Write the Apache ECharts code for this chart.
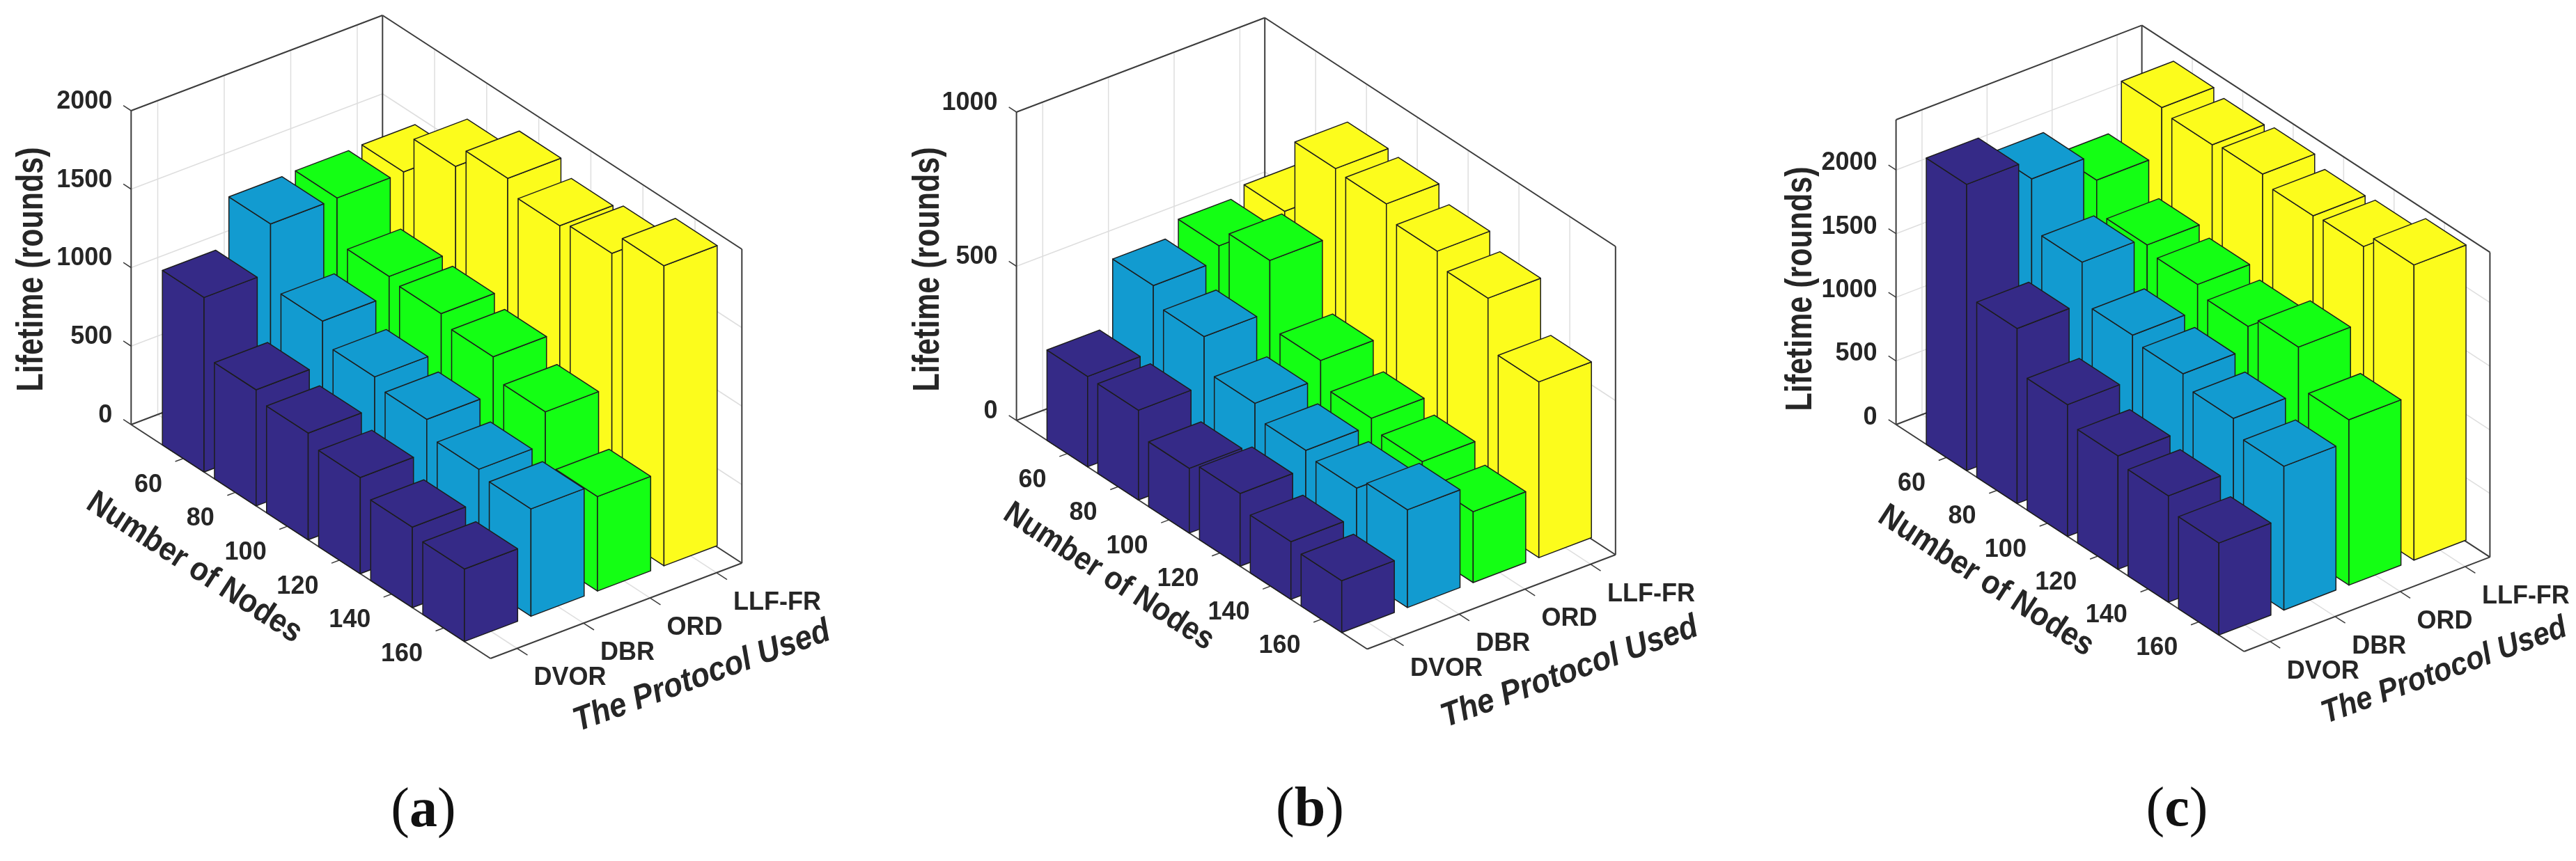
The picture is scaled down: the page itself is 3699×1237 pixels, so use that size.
<!DOCTYPE html>
<html><head><meta charset="utf-8">
<style>html,body{margin:0;padding:0;background:#fff}#c{width:3699px;height:1237px}</style>
<script src="https://cdn.jsdelivr.net/npm/echarts@6/dist/echarts.min.js"></script>
</head><body><div id="c"></div>
<script>
const nodeLabels = ['60','80','100','120','140','160'];
const protocolLabels = ['DVOR','DBR','ORD','LLF-FR'];
const protocolColors = ['#352a87','#129bd0','#14ff14','#fcfc1c'];

const a_DVOR = [1112,740,680,613,513,462];
const a_DBR  = [1420,1017,878,823,721,684];
const a_ORD  = [1425,1141,1120,1061,926,602];
const a_LLF  = [1430,1681,1821,1735,1775,1912];

const b_DVOR = [293,291,210,236,187,168];
const b_DBR  = [507,449,340,295,280,317];
const b_ORD  = [555,615,398,318,285,230];
const b_LLF  = [586,832,825,779,734,570];

const c_DVOR = [2249,1375,1035,891,835,723];
const c_DBR  = [2096,1700,1385,1340,1248,1130];
const c_ORD  = [1890,1639,1587,1516,1612,1299];
const c_LLF  = [2264,2230,2258,2189,2206,2319];

const ticksAC = [0,500,1000,1500,2000];
const ticksB = [0,500,1000];

const AT = 6.9, BT = 3.78;   // box extent in node / protocol units
const panels = [
 {key:'a', L:[188.3,610], top:159, nodeVec:[516,336], protoVec:[361,-137], yMax:2000, ticks:ticksAC,
  values:[a_DVOR,a_DBR,a_ORD,a_LLF], title:[46,387], nodeName:[279,816], nodeSize:43, protoName:[1008,972], protoSize:44, cap:[608,1166], capText:'a', labelLine:26},
 {key:'b', L:[1459.6,604], top:161, nodeVec:[503.6,328.5], protoVec:[356.6,-135.5], yMax:1000, ticks:ticksB,
  values:[b_DVOR,b_DBR,b_ORD,b_LLF], title:[1333,387], nodeName:[1592,829], nodeSize:42, protoName:[2254,966], protoSize:44, cap:[1881,1165], capText:'b', labelLine:26},
 {key:'c', L:[2722.6,610], top:172, nodeVec:[499.8,326], protoVec:[353,-135.6], yMax:2395, ticks:ticksAC,
  values:[c_DVOR,c_DBR,c_ORD,c_LLF], title:[2586.5,415], nodeName:[2851.6,835], nodeSize:43, protoName:[3510,964], protoSize:42, cap:[3126,1165], capText:'c', labelLine:20}
];

const TEXT = '#262626', FONT = '"Liberation Sans",Arial,sans-serif';
const grids=[], xAxes=[], yAxes=[], series=[], graphics=[];

panels.forEach((p,idx)=>{
  const u=[p.nodeVec[0]/AT,p.nodeVec[1]/AT], v=[p.protoVec[0]/BT,p.protoVec[1]/BT];
  const W=p.nodeVec[0]+p.protoVec[0];
  grids.push({left:p.L[0],top:p.top,width:W,height:p.L[1]-p.top,containLabel:false});
  xAxes.push({gridIndex:idx,type:'value',min:0,max:7,show:false});
  yAxes.push({gridIndex:idx,type:'value',min:0,max:p.yMax,interval:500,
    axisLine:{show:false},axisTick:{show:false},splitLine:{show:false},
    axisLabel:{show:true,customValues:p.ticks,margin:27,color:TEXT,fontFamily:FONT,fontWeight:'bold',fontSize:36,
      verticalAlign:'bottom',lineHeight:p.labelLine,formatter:x=>String(x)}});

  const proj=(api,a,b,val)=>{const o=api.coord([0,val]);return [o[0]+a*u[0]+b*v[0],o[1]+a*u[1]+b*v[1]];};
  const line=(s,e,color,w)=>({type:'line',shape:{x1:s[0],y1:s[1],x2:e[0],y2:e[1]},style:{stroke:color,lineWidth:w},silent:true});

  // frame, gridlines, ticks, slanted tick labels
  series.push({type:'custom',coordinateSystem:'cartesian2d',xAxisIndex:idx,yAxisIndex:idx,clip:false,silent:true,
    data:[[0,0]],z:1,
    renderItem:(params,api)=>{
      const P=(a,b,z)=>proj(api,a,b,z), ch=[], G='#dedede', K='#3c3c3c';
      nodeLabels.forEach((_,i)=>{
        const a=i+1;
        ch.push(line(P(a,0,0),P(a,BT,0),G,1.5));
        ch.push(line(P(a,BT,0),P(a,BT,p.yMax),G,1.5));
      });
      protocolLabels.forEach((_,j)=>{
        const b=j+.4;
        ch.push(line(P(0,b,0),P(AT,b,0),G,1.5));
        ch.push(line(P(0,b,0),P(0,b,p.yMax),G,1.5));
      });
      p.ticks.forEach(t=>{
        ch.push(line(P(0,0,t),P(0,BT,t),G,1.5));
        ch.push(line(P(0,BT,t),P(AT,BT,t),G,1.5));
        ch.push(line(P(0,0,t),P(-.15,0,t),K,1.5));
      });
      // box
      [[[0,0,1],[0,BT,1]],[[0,BT,1],[AT,BT,1]],[[0,0,0],[0,0,1]],[[0,BT,0],[0,BT,1]],[[AT,BT,0],[AT,BT,1]],
       [[0,0,0],[AT,0,0]],[[AT,0,0],[AT,BT,0]],[[AT,BT,0],[0,BT,0]],[[0,BT,0],[0,0,0]]].forEach(e=>{
        ch.push(line(P(e[0][0],e[0][1],e[0][2]*p.yMax),P(e[1][0],e[1][1],e[1][2]*p.yMax),K,2));
      });
      nodeLabels.forEach((t,i)=>{
        const a=i+1, s=P(a,0,0);
        ch.push(line(s,P(a,-.12,0),K,1.5));
        ch.push({type:'text',x:s[0]-30,y:s[1]+38,silent:true,style:{text:t,fill:TEXT,font:'bold 36px '+FONT,
          align:'right',verticalAlign:'middle',textAlign:'right',textVerticalAlign:'middle'}});
      });
      protocolLabels.forEach((t,j)=>{
        const b=j+.4, s=P(AT,b,0);
        ch.push(line(s,P(AT+.2,b,0),K,1.5));
        ch.push({type:'text',x:s[0]+24,y:s[1]+43,silent:true,style:{text:t,fill:TEXT,font:'bold 36px '+FONT,
          align:'left',verticalAlign:'middle',textAlign:'left',textVerticalAlign:'middle'}});
      });
      return {type:'group',children:ch};
    }});

  // bars: back protocol first, then nearer ones; nodes ascending
  for(let j=protocolLabels.length-1;j>=0;j--){
    series.push({type:'custom',name:p.key+'-'+protocolLabels[j],coordinateSystem:'cartesian2d',xAxisIndex:idx,yAxisIndex:idx,clip:false,
      z:2+(protocolLabels.length-j),
      data:p.values[j].map((val,i)=>[i,val]),
      renderItem:(params,api)=>{
        const i=api.value(0), val=api.value(1), col=protocolColors[j];
        const a0=i+.6,a1=i+1.4,b0=j,b1=j+.8;
        const T=(a,b)=>proj(api,a,b,val), B=(a,b)=>proj(api,a,b,0);
        const st={fill:col,stroke:'#1d1d1d',lineWidth:1.5,lineJoin:'round'};
        const poly=pts=>({type:'polygon',shape:{points:pts},style:st});
        return {type:'group',children:[
          poly([T(a0,b0),T(a1,b0),B(a1,b0),B(a0,b0)]),
          poly([T(a1,b0),T(a1,b1),B(a1,b1),B(a1,b0)]),
          poly([T(a0,b0),T(a1,b0),T(a1,b1),T(a0,b1)])
        ]};
      }});
  }

  graphics.push({type:'text',x:p.title[0],y:p.title[1],rotation:Math.PI/2,scaleY:1.25,silent:true,
    style:{text:'Lifetime (rounds)',fill:TEXT,font:'bold 43px '+FONT,align:'center',verticalAlign:'middle'}});
  graphics.push({type:'text',x:p.nodeName[0],y:p.nodeName[1],rotation:-33*Math.PI/180,scaleY:1.1,silent:true,
    style:{text:'Number of Nodes',fill:TEXT,font:'bold '+p.nodeSize+'px '+FONT,align:'center',verticalAlign:'middle'}});
  graphics.push({type:'text',x:p.protoName[0],y:p.protoName[1],rotation:20*Math.PI/180,scaleY:1.1,silent:true,
    style:{text:'The Protocol Used',fill:TEXT,font:'italic bold '+p.protoSize+'px '+FONT,align:'center',verticalAlign:'middle'}});
  graphics.push({type:'text',x:p.cap[0],y:p.cap[1],silent:true,
    style:{text:'{p|(}{b|'+p.capText+'}{p|)}',align:'center',verticalAlign:'middle',
      rich:{p:{font:'80px "Liberation Serif",serif',fill:'#111'},b:{font:'bold 80px "Liberation Serif",serif',fill:'#111'}}}});
});

const chart=echarts.init(document.getElementById('c'),null,{renderer:'canvas'});
chart.setOption({animation:false,backgroundColor:'#fff',grid:grids,xAxis:xAxes,yAxis:yAxes,series:series,graphic:{elements:graphics}});
</script></body></html>
